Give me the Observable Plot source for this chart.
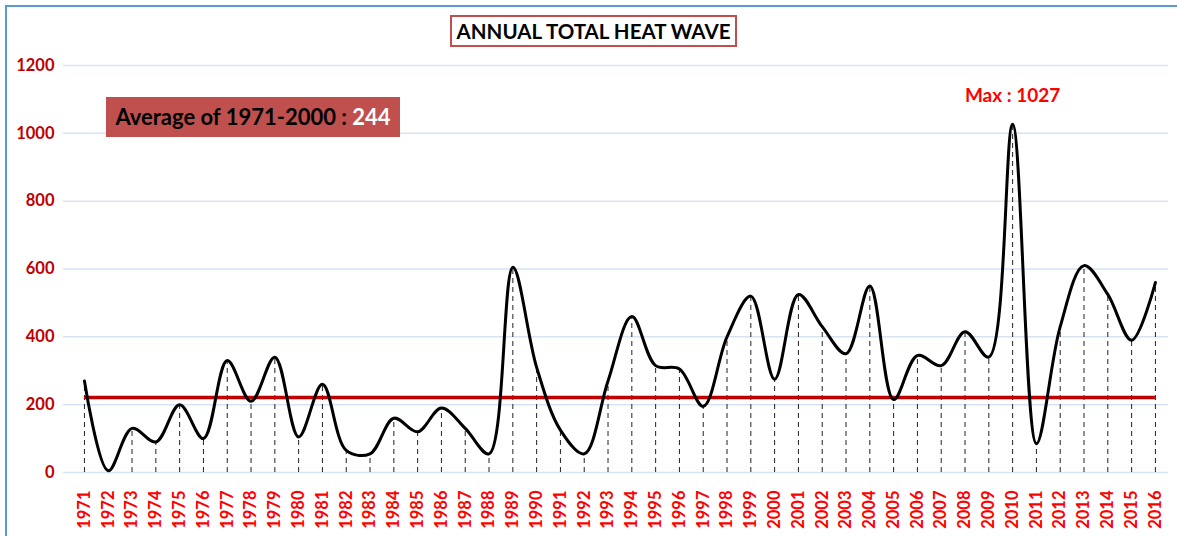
<!DOCTYPE html>
<html>
<head>
<meta charset="utf-8">
<script src="https://cdn.jsdelivr.net/npm/d3@7"></script>
<script src="https://cdn.jsdelivr.net/npm/@observablehq/plot@0.6"></script>
<style>
  body { margin: 0; background: #fff; font-family: Lato, "Open Sans", sans-serif; }
  #wrap { position: relative; width: 1177px; height: 536px; overflow: hidden; }
  #frame { position: absolute; left: 5px; top: 5px; width: 1190px; height: 560px; border-left: 2px solid #5b9bd5; border-top: 2px solid #5b9bd5; box-sizing: border-box; }
  #title { position: absolute; left: 450px; top: 15px; width: 287px; height: 32px; box-sizing: border-box; border: 2px solid #c0504d; background: #fff; font-weight: bold; font-size: 20.5px; line-height: 28px; text-align: center; color: #000; white-space: nowrap; }
  #avg { position: absolute; left: 106px; top: 97px; width: 294px; height: 40px; background: #c0504d; font-weight: bold; font-size: 22px; line-height: 40px; text-align: center; color: #000; white-space: nowrap; }
  #avg span { color: #fff; }
  #chart { position: absolute; left: 0; top: 0; }
</style>
</head>
<body>
<div id="wrap">
  <div id="chart"></div>
  <div id="frame"></div>
  <div id="title">ANNUAL TOTAL HEAT WAVE</div>
  <div id="avg">Average of 1971-2000 : <span>244</span></div>
</div>
<script>
const years = [1971,1972,1973,1974,1975,1976,1977,1978,1979,1980,1981,1982,1983,1984,1985,1986,1987,1988,1989,1990,1991,1992,1993,1994,1995,1996,1997,1998,1999,2000,2001,2002,2003,2004,2005,2006,2007,2008,2009,2010,2011,2012,2013,2014,2015,2016];
const heatWave = [270,5,130,90,200,100,330,210,340,105,260,65,55,160,120,190,130,55,605,310,125,55,270,460,315,305,195,400,520,275,525,430,350,550,215,345,315,415,340,1027,85,430,610,525,390,560];
const yTicks = [0,200,400,600,800,1000,1200];
const averageLine = 221; // drawn position of the 1971-2000 average line
const maxYear = 2010;

const data = years.map((y, i) => ({year: y, value: heatWave[i]}));
const maxRow = data.find(d => d.year === maxYear);

const chart = Plot.plot({
  width: 1177,
  height: 536,
  marginLeft: 63,
  marginRight: 9,
  marginTop: 65,
  marginBottom: 64,
  style: {fontFamily: "Lato, 'Open Sans', sans-serif", background: "transparent"},
  x: {type: "linear", domain: [1970.12, 2016.55]},
  y: {domain: [0, 1200]},
  marks: [
    Plot.ruleY(yTicks, {stroke: "#d6e3f3", strokeWidth: 1.5}),
    Plot.axisY(yTicks, {tickSize: 0, tickPadding: 9, color: "#c00000", fontSize: 16.5, fontWeight: "bold", tickFormat: d => String(d), label: null}),
    Plot.axisX(years, {tickSize: 0, tickPadding: 18, tickRotate: -90, color: "#ff0000", fontSize: 16.5, fontWeight: "bold", tickFormat: d => String(d), label: null}),
    Plot.ruleX(data, {x: "year", y1: 0, y2: "value", stroke: "#222", strokeWidth: 1, strokeDasharray: "5,4"}),
    Plot.ruleY([averageLine], {x1: years[0], x2: years[years.length - 1], stroke: "#c00000", strokeWidth: 3.5}),
    Plot.line(data, {x: "year", y: "value", curve: "catmull-rom", stroke: "#000", strokeWidth: 3}),
    Plot.text([maxRow], {x: "year", y: "value", text: d => `Max : ${d.value}`, dy: -28, fill: "#ff0000", fontSize: 19, fontWeight: "bold"})
  ]
});
document.getElementById("chart").appendChild(chart);
</script>
</body>
</html>
